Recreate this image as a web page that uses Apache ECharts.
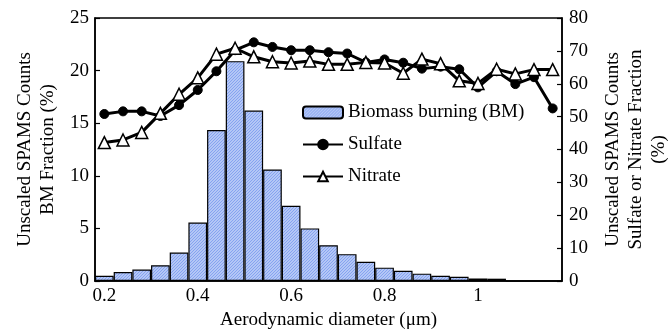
<!DOCTYPE html>
<html>
<head>
<meta charset="utf-8">
<script src="https://cdn.jsdelivr.net/npm/echarts@6/dist/echarts.min.js"></script>
<style>html,body{margin:0;padding:0;background:#fff}#c{width:669px;height:331px}</style>
</head>
<body>
<div id="c"></div>
<script>
var categories = ['0.2','0.24','0.28','0.32','0.36','0.4','0.44','0.48','0.52','0.56','0.6','0.64','0.68','0.72','0.76','0.8','0.84','0.88','0.92','0.96','1','1.04','1.08','1.12','1.16'];
var bmFraction = [0.5,0.85,1.1,1.5,2.7,5.55,14.35,20.9,16.2,10.6,7.15,5.0,3.4,2.55,1.82,1.27,0.98,0.7,0.5,0.4,0.24,0.22,0,0,0];
var sulfate = [50.8,51.6,51.6,50.2,53.5,58.1,63.8,70.2,72.6,71.2,70.2,70.2,69.6,69.2,66.5,67.4,66.4,64.6,65.2,64.4,58.9,63.8,59.9,62.0,52.5];
var nitrate = [42.1,42.9,45.2,51.0,56.8,61.8,69.0,70.8,68.2,66.7,66.3,66.9,65.9,65.9,66.5,66.3,63.2,67.5,66.1,60.9,60.1,64.4,63.0,64.3,64.3];
var leftTicks = [0,5,10,15,20,25];
var rightTicks = [0,10,20,30,40,50,60,70,80];

var FONT = '"Liberation Serif", "Times New Roman", serif';

// hatch pattern
var cv = document.createElement('canvas');
cv.width = 6; cv.height = 6;
var g = cv.getContext('2d');
g.fillStyle = '#e2eafd';
g.fillRect(0,0,6,6);
g.strokeStyle = '#86a3f0';
g.lineWidth = 1.4;
for (var k = -2; k <= 6; k++) {
  var c = k * 3;
  g.beginPath();
  g.moveTo(c - 6, 6 + 6);
  g.lineTo(c + 12, -6);
  g.stroke();
}

var chart = echarts.init(document.getElementById('c'), null, {renderer: 'canvas'});
chart.setOption({
  animation: false,
  backgroundColor: '#fff',
  grid: {left: 95, right: 107, top: 18, bottom: 50, containLabel: false, outerBoundsMode: 'none',
    show: true, borderColor: '#000', borderWidth: 1.5, backgroundColor: 'transparent'},
  legend: {
    orient: 'vertical', left: 297, top: 98, itemWidth: 40, itemHeight: 12, itemGap: 13,
    textStyle: {fontFamily: FONT, fontSize: 19, color: '#000'},
    data: ['Biomass burning (BM)', 'Sulfate', 'Nitrate']
  },
  xAxis: {
    type: 'category', data: categories, boundaryGap: true,
    name: 'Aerodynamic diameter (\u03bcm)', nameLocation: 'middle', nameGap: 28,
    nameTextStyle: {fontFamily: FONT, fontSize: 19, color: '#000'},
    axisLine: {lineStyle: {color: '#000', width: 1.5}},
    axisTick: {inside: true, interval: 0, length: 5, lineStyle: {color: '#000', width: 1.2}},
    axisLabel: {interval: 4, margin: 6, fontFamily: FONT, fontSize: 19, color: '#000'}
  },
  yAxis: [{
    type: 'value', min: 0, max: 25, interval: 5, position: 'left',
    name: 'Unscaled SPAMS Counts\nBM Fraction (%)', nameLocation: 'middle', nameRotate: 90, nameGap: 32,
    nameTextStyle: {fontFamily: FONT, fontSize: 19, color: '#000', lineHeight: 23},
    splitLine: {show: false},
    axisLine: {show: true, lineStyle: {color: '#000', width: 1.5}},
    axisTick: {show: true, inside: true, length: 5, lineStyle: {color: '#000', width: 1.2}},
    axisLabel: {margin: 6, fontFamily: FONT, fontSize: 19, color: '#000',
      formatter: function (v) { return leftTicks.indexOf(v) >= 0 ? String(v) : ''; }}
  }, {
    type: 'value', min: 0, max: 80, interval: 10, position: 'right',
    name: 'Unscaled SPAMS Counts\nSulfate or Nitrate Fraction\n(%)', nameLocation: 'middle', nameRotate: 90, nameGap: 40,
    nameTextStyle: {fontFamily: FONT, fontSize: 19, color: '#000', lineHeight: 23},
    splitLine: {show: false},
    axisLine: {show: true, lineStyle: {color: '#000', width: 1.5}},
    axisTick: {show: true, inside: true, length: 5, lineStyle: {color: '#000', width: 1.2}},
    axisLabel: {margin: 7, fontFamily: FONT, fontSize: 19, color: '#000',
      formatter: function (v) { return rightTicks.indexOf(v) >= 0 ? String(v) : ''; }}
  }],
  series: [{
    name: 'Biomass burning (BM)', type: 'bar', data: bmFraction, yAxisIndex: 0,
    barCategoryGap: '0%',
    itemStyle: {color: {image: cv, repeat: 'repeat'}, borderColor: '#000', borderWidth: 1.2}
  }, {
    name: 'Sulfate', type: 'line', data: sulfate, yAxisIndex: 1,
    symbol: 'circle', symbolSize: 9,
    lineStyle: {color: '#000', width: 3},
    itemStyle: {color: '#000', borderColor: '#000', borderWidth: 1}
  }, {
    name: 'Nitrate', type: 'line', data: nitrate, yAxisIndex: 1,
    symbol: 'triangle', symbolSize: 12,
    lineStyle: {color: '#000', width: 3},
    itemStyle: {color: '#fff', borderColor: '#000', borderWidth: 1.5}
  }]
});
</script>
</body>
</html>
